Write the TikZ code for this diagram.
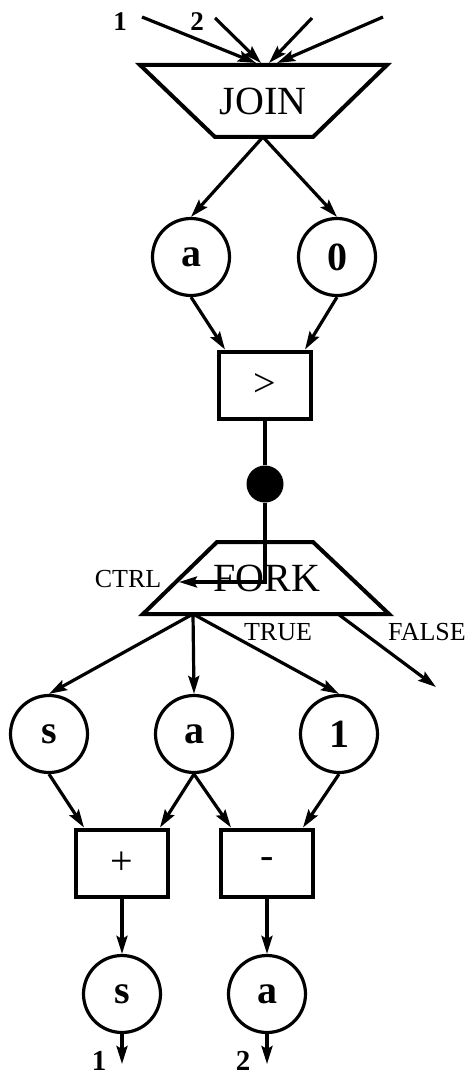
\documentclass[tikz,border=0pt]{standalone}
\usepackage{fontspec}
\setmainfont{Liberation Serif}
\usetikzlibrary{arrows.meta,calc}
\begin{document}
\begin{tikzpicture}[x=1pt,y=-1pt,
  wire/.style={line width=3.2pt},
  flow/.style={wire,-{Stealth[length=18pt,width=11pt,inset=3pt]}},
  val/.style={circle,draw,line width=3.2pt,minimum size=77pt,inner sep=0pt,
    font=\fontsize{40}{40}\selectfont\bfseries},
  op/.style={draw,line width=4pt,minimum width=92pt,minimum height=67pt,inner sep=0pt,
    font=\fontsize{40}{40}\selectfont},
  gate/.style={draw,line width=4pt,line join=miter},
  word/.style={font=\fontsize{40}{40}\selectfont},
  tag/.style={font=\fontsize{26}{26}\selectfont},
  num/.style={font=\fontsize{27}{27}\selectfont\bfseries},
  outnum/.style={font=\fontsize{29}{29}\selectfont\bfseries},
]
\useasboundingbox (0,0) rectangle (469,1078);

% ---- JOIN gate with its four inputs ----
\draw[gate] (140,65) -- (387,65) -- (313,137) -- (215,137) -- cycle;
\node[word] (join) at (263,101) {JOIN};
\coordinate (jb) at (263,137);
\coordinate (i1s) at (142,17); \coordinate (i1e) at (256,63);
\coordinate (i2s) at (215,18); \coordinate (i2e) at (261,63);
\coordinate (i3s) at (312,18); \coordinate (i3e) at (269,63);
\coordinate (i4s) at (383,17); \coordinate (i4e) at (277,63);
\draw[flow] (i1s) -- (i1e);
\draw[flow] (i2s) -- (i2e);
\draw[flow] (i3s) -- (i3e);
\draw[flow] (i4s) -- (i4e);
\node[num] (in1) at (120,22) {1};
\node[num] (in2) at (197,22) {2};

% ---- comparison a > 0 ----
\node[val] (a) at (191,257) {a};
\node[val] (z) at (337,257) {0};
\draw[flow] (jb) -- (a.north);
\draw[flow] (jb) -- (z.north);
\node[op] (gt) at (265,385) {>};
\draw[flow] (a.south) -- ($(gt.north west)+(8,0)$);
\draw[flow] (z.south) -- ($(gt.north east)+(-8,0)$);
\node[circle,fill,minimum size=37pt,inner sep=0pt] (dot) at (265,484) {};
\draw[wire] (gt.south) -- (dot);

% ---- FORK gate ----
\draw[gate] (217,542) -- (313,542) -- (389,614) -- (143,614) -- cycle;
\node[word] (fork) at (267,578) {FORK};
\coordinate (bend) at (265,582);
\coordinate (ctl) at (179,582);
\draw[flow] (dot) -- (bend) -- (ctl);
\node[tag] (ctrl) at (128,579) {CTRL};
\node[tag] (true) at (278,632) {TRUE};
\node[tag] (false) at (427,632) {FALSE};
\coordinate (fb) at (193,614);
\coordinate (ff) at (338,614);
\coordinate (fe) at (436,687);
\draw[flow] (ff) -- (fe);

% ---- loop body: s + a, a - 1 ----
\node[val] (s1) at (49,734) {s};
\node[val] (a2) at (194,734) {a};
\node[val] (one) at (339,734) {1};
\draw[flow] (fb) -- (s1.north);
\draw[flow] (fb) -- (a2.north);
\draw[flow] (fb) -- (one.north);
\node[op] (plus) at (122,863) {+};
\node[op] (minus) at (267,863) {-};
\draw[flow] (s1.south) -- ($(plus.north west)+(10,0)$);
\draw[flow] (a2.south) -- ($(plus.north east)+(-10,0)$);
\draw[flow] (a2.south) -- ($(minus.north west)+(12,0)$);
\draw[flow] (one.south) -- ($(minus.north east)+(-12,0)$);

% ---- outputs ----
\node[val] (so) at (122,994) {s};
\node[val] (ao) at (267,994) {a};
\draw[flow] (plus.south) -- (so.north);
\draw[flow] (minus.south) -- (ao.north);
\coordinate (o1) at (122,1064);
\coordinate (o2) at (267,1064);
\draw[flow] (so.south) -- (o1);
\draw[flow] (ao.south) -- (o2);
\node[outnum] (out1) at (99,1061) {1};
\node[outnum] (out2) at (243,1061) {2};
\end{tikzpicture}
\end{document}
